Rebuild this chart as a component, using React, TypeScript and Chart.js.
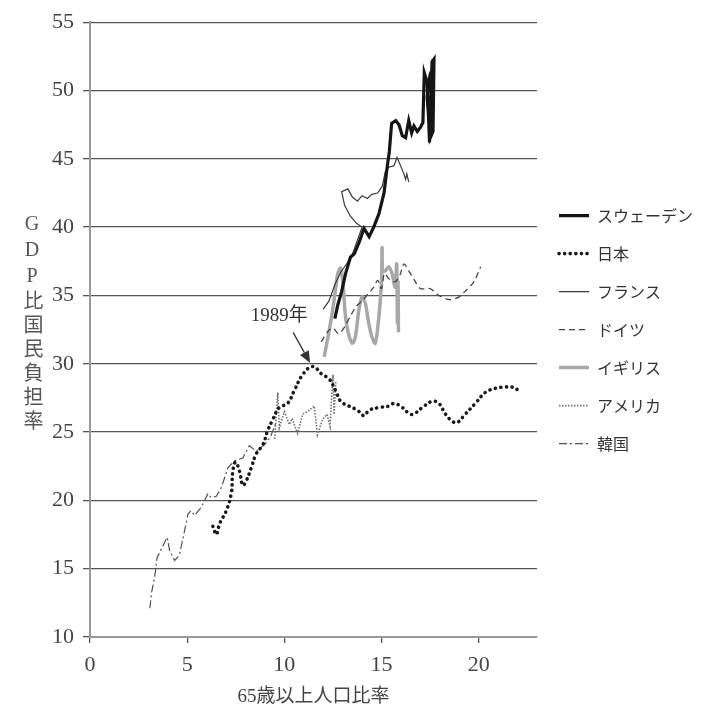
import { useEffect, useRef } from "react";
import { Chart, registerables } from "chart.js";

Chart.register(...registerables);

const seriesNames = ["スウェーデン", "日本", "フランス", "ドイツ", "イギリス", "アメリカ", "韓国"];

const swedenX = [12.6, 12.75, 12.95, 13.15, 13.4, 13.6, 13.85, 14.1, 14.36, 14.6, 14.87, 15.13, 15.3, 15.4, 15.52, 15.73, 15.9, 16.07, 16.24, 16.4, 16.55, 16.67, 16.84, 17.0, 17.13, 17.2, 17.35, 17.47, 17.6, 17.7, 17.65, 17.5, 17.35, 17.5, 17.7];
const swedenY = [33.3, 34.3, 35.3, 36.6, 37.8, 38.05, 38.9, 39.9, 39.3, 40.0, 41.0, 42.5, 44.5, 45.5, 47.6, 47.8, 47.5, 46.7, 46.55, 47.8, 46.9, 47.4, 47.0, 47.3, 47.65, 51.3, 50.6, 46.2, 52.1, 52.3, 47.0, 46.5, 49.5, 51.2, 51.8];

const japanX = [6.32, 6.5, 6.67, 7.0, 7.27, 7.35, 7.49, 7.69, 7.86, 8.03, 8.3, 8.55, 8.9, 9.14, 9.4, 9.74, 10.17, 10.5, 10.94, 11.45, 11.96, 12.3, 12.65, 12.9, 13.33, 13.76, 14.1, 14.36, 14.87, 15.38, 15.64, 15.98, 16.5, 16.75, 17.1, 17.6, 17.95, 18.3, 18.63, 18.9, 19.3, 19.83, 20.34, 20.85, 21.36, 21.7, 22.0];
const japanY = [18.1, 17.5, 18.3, 19.2, 20.5, 22.15, 22.8, 22.15, 21.1, 21.4, 22.4, 23.4, 24.1, 25.1, 25.9, 26.8, 27.1, 28.0, 29.2, 29.8, 29.2, 28.9, 28.0, 27.25, 26.9, 26.6, 26.2, 26.6, 26.8, 26.9, 27.1, 26.9, 26.3, 26.4, 26.8, 27.25, 27.1, 26.3, 25.8, 25.7, 26.3, 27.1, 27.9, 28.2, 28.3, 28.3, 28.1];

const franceX = [12.0, 12.3, 12.6, 12.9, 13.2, 13.5, 13.8, 14.0, 13.7, 13.4, 13.1, 12.95, 13.27, 13.5, 13.76, 14.0, 14.27, 14.5, 14.8, 15.04, 15.2, 15.4, 15.64, 15.8, 15.98, 16.15, 16.24, 16.3, 16.4];
const franceY = [34.0, 34.6, 35.8, 36.7, 37.3, 38.0, 39.2, 40.0, 40.3, 40.8, 41.6, 42.6, 42.8, 42.2, 41.9, 42.3, 42.1, 42.4, 42.5, 43.0, 44.1, 44.4, 44.5, 45.1, 44.5, 43.9, 43.5, 43.9, 43.3];

const germanyX = [11.9, 12.2, 12.5, 12.8, 13.1, 13.4, 13.7, 14.0, 14.3, 14.6, 14.8, 15.0, 15.15, 15.4, 15.7, 15.95, 16.15, 16.4, 16.7, 17.0, 17.5, 17.95, 18.5, 19.0, 19.3, 19.75, 20.1];
const germanyY = [31.6, 32.3, 32.6, 32.2, 32.7, 33.5, 34.2, 34.6, 35.1, 35.6, 36.1, 35.5, 36.6, 36.2, 36.0, 36.5, 37.3, 36.8, 36.1, 35.5, 35.5, 35.0, 34.7, 34.9, 35.3, 36.0, 37.1];

const ukX = [12.05, 12.25, 12.46, 12.63, 12.75, 12.9, 13.03, 13.15, 13.3, 13.5, 13.66, 13.83, 14.0, 14.17, 14.34, 14.5, 14.68, 14.86, 15.0, 15.03, 15.06, 15.2, 15.37, 15.54, 15.7, 15.78, 15.82, 15.85, 15.87];
const ukY = [30.5, 32.0, 33.7, 35.4, 36.6, 37.0, 35.6, 33.4, 32.2, 31.5, 32.0, 33.9, 34.9, 34.4, 33.0, 32.0, 31.5, 33.4, 36.0, 38.5, 36.8, 36.8, 37.1, 36.6, 35.6, 37.3, 33.0, 36.0, 32.3];

const usaX = [9.5, 9.66, 9.74, 10.0, 10.26, 10.4, 10.68, 10.94, 11.28, 11.54, 11.7, 11.96, 12.2, 12.35, 12.45, 12.5, 12.56, 12.65];
const usaY = [24.5, 27.9, 25.3, 26.5, 25.55, 26.0, 24.9, 26.3, 26.6, 26.9, 24.8, 25.9, 26.3, 25.4, 28.0, 29.2, 26.3, 28.7];

const koreaX = [3.08, 3.16, 3.33, 3.45, 3.59, 3.76, 3.97, 4.1, 4.36, 4.6, 4.87, 5.04, 5.2, 5.38, 5.73, 6.07, 6.24, 6.5, 6.75, 7.1, 7.44, 7.86, 8.2, 8.55, 9.0, 9.3, 9.57];
const koreaY = [12.1, 13.2, 14.4, 15.8, 16.2, 16.7, 17.3, 16.3, 15.6, 16.0, 17.8, 19.0, 19.25, 18.9, 19.5, 20.5, 20.2, 20.3, 20.9, 22.4, 22.9, 23.1, 24.0, 23.6, 24.1, 24.7, 25.7];

const xMin = 0;
const xMax = 23;
const xStep = 5;
const yMin = 10;
const yMax = 55;
const yStep = 5;

const xTitle = "65歳以上人口比率";
const yTitle = "GDP比国民負担率";

const annotationLabel = "1989年";
const annotationLabelAt = [9.74, 33.5];
const arrowFrom = [10.45, 32.3];
const arrowTo = [11.33, 30.05];

const toPoints = (xs: number[], ys: number[]) => xs.map((x, i) => ({ x, y: ys[i] }));

const annotationPlugin = {
  id: "annotation1989",
  afterDatasetsDraw(chart: any) {
    const { ctx, scales } = chart;
    const sx = scales.x;
    const sy = scales.y;
    ctx.save();
    ctx.fillStyle = "#333";
    ctx.font = "19px 'Liberation Serif', 'Noto Sans CJK JP'";
    ctx.textAlign = "center";
    ctx.textBaseline = "middle";
    ctx.fillText(annotationLabel, sx.getPixelForValue(annotationLabelAt[0]), sy.getPixelForValue(annotationLabelAt[1]));
    const x0 = sx.getPixelForValue(arrowFrom[0]);
    const y0 = sy.getPixelForValue(arrowFrom[1]);
    const x1 = sx.getPixelForValue(arrowTo[0]);
    const y1 = sy.getPixelForValue(arrowTo[1]);
    const ang = Math.atan2(y1 - y0, x1 - x0);
    const head = 12;
    const half = 5;
    ctx.strokeStyle = "#333";
    ctx.lineWidth = 1.3;
    ctx.beginPath();
    ctx.moveTo(x0, y0);
    ctx.lineTo(x1 - head * Math.cos(ang), y1 - head * Math.sin(ang));
    ctx.stroke();
    ctx.beginPath();
    ctx.moveTo(x1, y1);
    ctx.lineTo(x1 - head * Math.cos(ang) + half * Math.sin(ang), y1 - head * Math.sin(ang) - half * Math.cos(ang));
    ctx.lineTo(x1 - head * Math.cos(ang) - half * Math.sin(ang), y1 - head * Math.sin(ang) + half * Math.cos(ang));
    ctx.closePath();
    ctx.fill();
    ctx.restore();
  },
};

export default function App() {
  const canvasRef = useRef<HTMLCanvasElement | null>(null);

  useEffect(() => {
    if (!canvasRef.current) return;
    const tickFont = { family: "'Liberation Serif', serif", size: 22 };
    const mk = (label: string, xs: number[], ys: number[], color: string, width: number, dash: number[], cap: any = "butt", tension = 0) => ({
      label,
      data: toPoints(xs, ys),
      borderColor: color,
      backgroundColor: color,
      borderWidth: width,
      borderDash: dash,
      borderCapStyle: cap,
      pointRadius: 0,
      pointHoverRadius: 0,
      fill: false,
      tension,
    });
    const chart = new Chart(canvasRef.current, {
      type: "line",
      data: {
        datasets: [
          mk(seriesNames[0], swedenX, swedenY, "#151515", 3.2, []),
          mk(seriesNames[1], japanX, japanY, "#1a1a1a", 3.6, [0.1, 5.5], "round", 0.4),
          mk(seriesNames[2], franceX, franceY, "#3a3a3a", 1.2, []),
          mk(seriesNames[3], germanyX, germanyY, "#444", 1.3, [6, 4], "butt", 0.3),
          mk(seriesNames[4], ukX, ukY, "#a8a8a8", 3.5, [], "butt", 0.3),
          mk(seriesNames[5], usaX, usaY, "#707070", 1.6, [1.5, 1.5]),
          mk(seriesNames[6], koreaX, koreaY, "#505050", 1.2, [8, 3, 2, 3]),
        ],
      },
      options: {
        animation: false,
        responsive: true,
        maintainAspectRatio: false,
        events: [],
        layout: { padding: { top: 19, right: 0, left: 0, bottom: 0 } },
        plugins: {
          tooltip: { enabled: false },
          legend: {
            position: "right",
            fullSize: false,
            align: "center",
            labels: {
              usePointStyle: true,
              pointStyle: "line",
              pointStyleWidth: 30,
              padding: 22,
              color: "#333",
              font: { family: "'Noto Sans CJK JP', sans-serif", size: 16 },
              generateLabels: (c: any) =>
                c.data.datasets.map((ds: any, i: number) => ({
                  text: ds.label,
                  fillStyle: ds.borderColor,
                  strokeStyle: ds.borderColor,
                  lineWidth: ds.borderWidth,
                  lineDash: ds.borderDash,
                  lineCap: ds.borderCapStyle,
                  pointStyle: "line",
                  fontColor: "#333",
                  hidden: false,
                  datasetIndex: i,
                })),
            },
          },
        },
        scales: {
          x: {
            type: "linear",
            min: xMin,
            max: xMax,
            afterFit: (scale: any) => {
              scale.height = 76;
            },
            ticks: { stepSize: xStep, includeBounds: false, color: "#444", font: tickFont, padding: 9 },
            grid: { display: true, drawOnChartArea: false, drawTicks: true, tickLength: 6, color: "#555", lineWidth: 1.3 },
            border: { display: true, color: "#999", width: 2 },
            title: {
              display: true,
              text: xTitle,
              color: "#444",
              font: { family: "'Liberation Serif', 'Noto Sans CJK JP'", size: 19 },
              padding: { top: 0, bottom: 5 },
            },
          },
          y: {
            type: "linear",
            min: yMin,
            max: yMax,
            afterFit: (scale: any) => {
              scale.width = 90;
            },
            ticks: { stepSize: yStep, color: "#444", font: tickFont, padding: 9 },
            grid: { color: "#555", lineWidth: 1.3, tickLength: 7, drawTicks: true },
            border: { display: true, color: "#999", width: 2 },
          },
        },
      },
      plugins: [annotationPlugin],
    } as any);
    return () => chart.destroy();
  }, []);

  return (
    <div style={{ position: "absolute", left: 0, top: 0, width: 703, height: 713, background: "#fff" }}>
      <canvas ref={canvasRef} />
      <div
        style={{
          position: "absolute",
          left: 22,
          top: 212,
          writingMode: "vertical-rl",
          textOrientation: "upright",
          fontSize: 20,
          lineHeight: 1,
          letterSpacing: 4,
          color: "#555",
          fontFamily: "'Liberation Serif', 'Noto Sans CJK JP', serif",
        }}
      >
        {yTitle}
      </div>
    </div>
  );
}
